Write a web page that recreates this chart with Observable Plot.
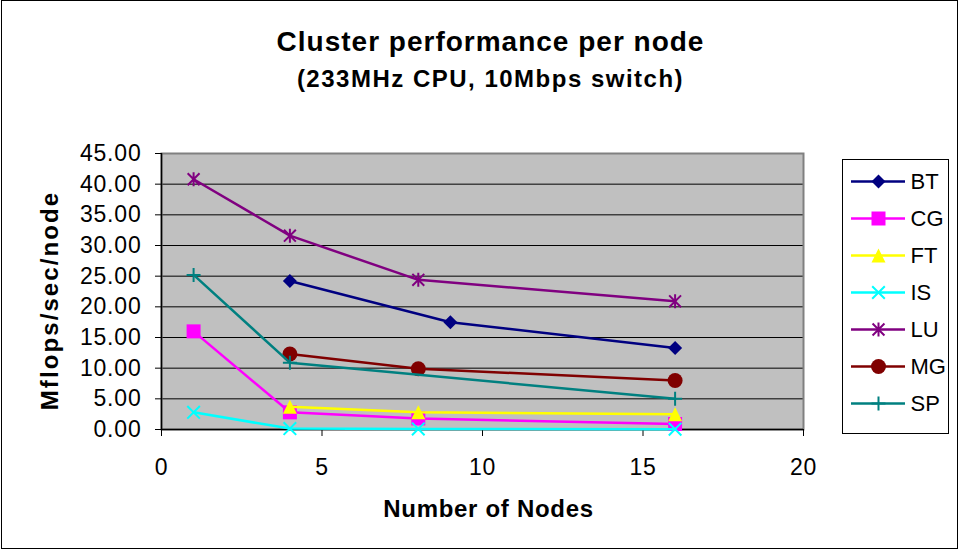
<!DOCTYPE html>
<html>
<head>
<meta charset="utf-8">
<script src="https://cdn.jsdelivr.net/npm/d3@7"></script>
<script src="https://cdn.jsdelivr.net/npm/@observablehq/plot@0.6"></script>
<style>
  html, body { margin: 0; padding: 0; background: #fff; }
  #chart { position: relative; width: 961px; height: 550px; overflow: hidden; font-family: "Liberation Sans", Arial, sans-serif; background: #fff; }
  #outer { position: absolute; left: 1px; top: 0px; width: 957px; height: 549px; box-sizing: border-box; border: 1.5px solid #000; pointer-events: none; }
  .ttl { position: absolute; left: 0; width: 981px; text-align: center; font-weight: bold; color: #000; line-height: 1; white-space: nowrap; }
  #title { top: 28px; font-size: 28px; letter-spacing: 1px; }
  #subtitle { top: 67px; font-size: 24px; letter-spacing: 1.5px; }
  #main { position: absolute; left: 0; top: 120px; }
  #legend { position: absolute; left: 842px; top: 159px; width: 107px; height: 275px; box-sizing: border-box; border: 1px solid #000; background: #fff; }
  #legend svg { display: block; }
  g[aria-label="y-axis tick label"] text, g[aria-label="x-axis tick label"] text { letter-spacing: 0.8px; }
</style>
</head>
<body>
<div id="chart">
  <div id="title" class="ttl">Cluster performance per node</div>
  <div id="subtitle" class="ttl">(233MHz CPU, 10Mbps switch)</div>
  <div id="main"></div>
  <div id="legend"></div>
  <div id="outer"></div>
</div>
<script>
// ---- data ----
const seriesNames = ["BT", "CG", "FT", "IS", "LU", "MG", "SP"];
const seriesColors = ["#000080", "#FF00FF", "#FFFF00", "#00FFFF", "#800080", "#800000", "#008080"];

const btNodes = [4, 9, 16];
const btValues = [24.2, 17.5, 13.3];
const cgNodes = [1, 4, 8, 16];
const cgValues = [16.0, 2.8, 1.8, 0.9];
const ftNodes = [4, 8, 16];
const ftValues = [3.7, 2.8, 2.5];
const isNodes = [1, 4, 8, 16];
const isValues = [2.8, 0.15, 0.1, 0.05];
const luNodes = [1, 4, 8, 16];
const luValues = [40.8, 31.6, 24.4, 20.9];
const mgNodes = [4, 8, 16];
const mgValues = [12.3, 9.9, 8.0];
const spNodes = [1, 4, 16];
const spValues = [25.2, 10.9, 5.0];

const xTicks = [0, 5, 10, 15, 20];
const yTicks = [0, 5, 10, 15, 20, 25, 30, 35, 40, 45];
const xLabel = "Number of Nodes";
const yLabel = "Mflops/sec/node";

// ---- marker shapes (Excel-like) ----
function sym(fn) { return { draw(ctx, size) { const r = Math.sqrt(size / Math.PI); fn(ctx, r); } }; }
const symDiamond = sym((c, r) => { c.moveTo(0, -r); c.lineTo(r, 0); c.lineTo(0, r); c.lineTo(-r, 0); c.closePath(); });
const symSquare = sym((c, r) => { c.rect(-r, -r, 2 * r, 2 * r); });
const symTriangle = sym((c, r) => { c.moveTo(0, -r); c.lineTo(r, r); c.lineTo(-r, r); c.closePath(); });
const symTimes = sym((c, r) => { const a = r * 0.9; c.moveTo(-a, -a); c.lineTo(a, a); c.moveTo(-a, a); c.lineTo(a, -a); });
const symStar = sym((c, r) => { const a = r * 0.85; c.moveTo(-a, -a); c.lineTo(a, a); c.moveTo(-a, a); c.lineTo(a, -a); c.moveTo(0, -r); c.lineTo(0, r); });
const symCircle = sym((c, r) => { const a = r * 1.07; c.moveTo(a, 0); c.arc(0, 0, a, 0, 2 * Math.PI); });
const symPlus = sym((c, r) => { c.moveTo(-r, 0); c.lineTo(r, 0); c.moveTo(0, -r); c.lineTo(0, r); });

const symbols = [symDiamond, symSquare, symTriangle, symTimes, symStar, symCircle, symPlus];
const filled = [true, true, true, false, false, true, false];

const nodesList = [btNodes, cgNodes, ftNodes, isNodes, luNodes, mgNodes, spNodes];
const valuesList = [btValues, cgValues, ftValues, isValues, luValues, mgValues, spValues];
const seriesData = seriesNames.map((name, i) => nodesList[i].map((n, j) => ({ series: name, nodes: n, value: valuesList[i][j] })));

function dotStyle(i) {
  return filled[i]
    ? { fill: seriesColors[i], stroke: "none" }
    : { fill: "none", stroke: seriesColors[i], strokeWidth: 2 };
}

const fontFamily = '"Liberation Sans", Arial, sans-serif';

const seriesMarks = seriesData.flatMap((data, i) => [
  Plot.line(data, { x: "nodes", y: "value", stroke: seriesColors[i], strokeWidth: 2.5 }),
  Plot.dot(data, { x: "nodes", y: "value", symbol: symbols[i], r: 7, ...dotStyle(i) })
]);

const main = Plot.plot({
  width: 961,
  height: 430,
  marginLeft: 161,
  marginRight: 158,
  marginTop: 33,
  marginBottom: 121,
  style: { fontFamily, background: "transparent", color: "#000", overflow: "visible" },
  x: { domain: [0, 20] },
  y: { domain: [0, 45] },
  marks: [
    Plot.frame({ fill: "#C0C0C0" }),
    Plot.gridY(yTicks.filter(d => d > 0 && d < 45), { stroke: "#000", strokeOpacity: 1, strokeWidth: 1 }),
    Plot.frame({ stroke: "#808080", strokeWidth: 2 }),
    Plot.ruleX([0], { stroke: "#000", strokeWidth: 1.5 }),
    Plot.ruleY([0], { stroke: "#000", strokeWidth: 1.5 }),
    Plot.axisY({ ticks: yTicks, tickSize: 6, tickPadding: 14, tickFormat: d3.format(".2f"), fontSize: 23, label: null, stroke: "#000" }),
    Plot.axisX({ ticks: xTicks, tickSize: 7, tickPadding: 22, tickFormat: d => String(d), fontSize: 23, label: null, stroke: "#000" }),
    ...seriesMarks,
    Plot.text([xLabel], { text: d => d, frameAnchor: "bottom", dx: 6, dy: 80, lineAnchor: "middle", fontSize: 24, fontWeight: "bold", fill: "#000" }),
    Plot.text([yLabel], { text: d => d, frameAnchor: "left", rotate: -90, dx: -111, dy: 9, lineAnchor: "middle", textAnchor: "middle", fontSize: 24, fontWeight: "bold", fill: "#000" })
  ]
});
d3.select(main).selectAll("text").each(function () {
  const t = this.textContent;
  if (t === yLabel) this.style.letterSpacing = "2.1px";
  if (t === xLabel) this.style.letterSpacing = "0.7px";
});
document.getElementById("main").appendChild(main);

// ---- legend ----
const legendMarks = seriesNames.flatMap((name, i) => [
  Plot.ruleY([name], { y: d => d, stroke: seriesColors[i], strokeWidth: 2.5 }),
  Plot.dot([name], { y: d => d, symbol: symbols[i], r: 7, ...dotStyle(i) })
]);
const legend = Plot.plot({
  width: 105,
  height: 273,
  marginLeft: 8,
  marginRight: 43,
  marginTop: 19,
  marginBottom: 28,
  style: { fontFamily, background: "transparent", color: "#000", overflow: "visible" },
  y: { type: "point", domain: seriesNames, padding: 0, axis: null },
  marks: [
    ...legendMarks,
    Plot.text(seriesNames, { y: d => d, text: d => d, frameAnchor: "right", dx: 5, textAnchor: "start", fontSize: 22, fill: "#000" })
  ]
});
document.getElementById("legend").appendChild(legend);
</script>
</body>
</html>
